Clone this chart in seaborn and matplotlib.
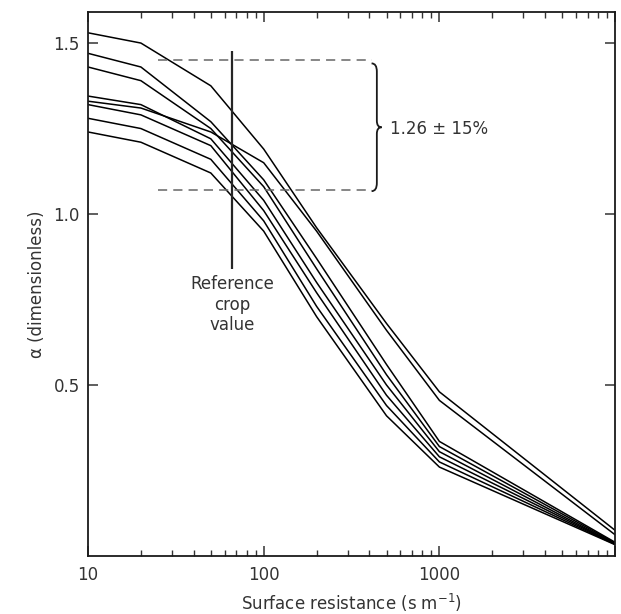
import matplotlib
matplotlib.use("Agg")
import matplotlib.pyplot as plt
from matplotlib.path import Path
from matplotlib.patches import PathPatch
from matplotlib.ticker import FixedLocator, LogLocator, NullFormatter
import numpy as np
import pandas as pd
import seaborn as sns

# surface resistance values where each curve was read
resistance = [10, 20, 50, 100, 200, 500, 1000, 10000]

# alpha for each curve
curve_a = [1.53, 1.50, 1.375, 1.19, 0.96, 0.68, 0.48, 0.075]
curve_b = [1.33, 1.31, 1.24, 1.15, 0.95, 0.66, 0.455, 0.062]
curve_c = [1.47, 1.43, 1.27, 1.10, 0.87, 0.56, 0.335, 0.040]
curve_d = [1.43, 1.39, 1.25, 1.08, 0.84, 0.53, 0.32, 0.038]
curve_e = [1.345, 1.32, 1.22, 1.04, 0.80, 0.50, 0.305, 0.036]
curve_f = [1.32, 1.29, 1.20, 1.01, 0.77, 0.47, 0.29, 0.035]
curve_g = [1.28, 1.25, 1.16, 0.98, 0.73, 0.44, 0.275, 0.034]
curve_h = [1.24, 1.21, 1.12, 0.95, 0.70, 0.41, 0.26, 0.033]
curves = [curve_a, curve_b, curve_c, curve_d, curve_e, curve_f, curve_g, curve_h]

x_ticks = [10, 100, 1000]
x_tick_labels = ["10", "100", "1000"]
y_ticks = [0.5, 1.0, 1.5]
y_tick_labels = ["0.5", "1.0", "1.5"]

# annotation values
ref_crop = 66
band_mid = 1.26
band_hi = band_mid * 1.15
band_lo = band_mid * 0.85

rows = []
for i, c in enumerate(curves):
    for r, a in zip(resistance, c):
        rows.append({"curve": i, "rs": r, "alpha": a})
df = pd.DataFrame(rows)

sns.set_theme(style="ticks")
plt.rcParams["font.family"] = ["DejaVu Sans"]

fig = plt.figure(figsize=(6.21, 6.14), dpi=100)
ax = fig.add_axes([0.1417, 0.0945, 0.8488, 0.8855])

sns.lineplot(data=df, x="rs", y="alpha", units="curve", estimator=None,
             color="black", linewidth=1.1, ax=ax, legend=False)

ax.set_xscale("log")
ax.set_xlim(10, 10000)
ax.set_ylim(0, 1.59)

# dashed band and reference line
ax.hlines([band_hi, band_lo], 25, 411, colors="0.4", linestyles=(0, (6, 4)), linewidth=1.1)
ax.vlines(ref_crop, 0.84, 1.476, colors="0.15", linewidth=1.6)

# curly brace to the right of the band
xb, xt, xe = 0.548, 0.557, 0.538
yt, yb = 0.906, 0.671
ym = (yt + yb) / 2
verts = [(xe, yt), (xb, yt), (xb, yt - 0.015),
         (xb, ym + 0.012), (xb, ym), (xt, ym),
         (xb, ym), (xb, ym - 0.012),
         (xb, yb + 0.015), (xb, yb), (xe, yb)]
codes = [Path.MOVETO, Path.CURVE3, Path.CURVE3,
         Path.LINETO, Path.CURVE3, Path.CURVE3,
         Path.CURVE3, Path.CURVE3,
         Path.LINETO, Path.CURVE3, Path.CURVE3]
ax.add_patch(PathPatch(Path(verts, codes), transform=ax.transAxes,
                       fill=False, edgecolor="0.1", linewidth=1.3))

fs = 12
ax.text(520, 1.25, "1.26 ± 15%", fontsize=fs, va="center", ha="left", color="0.2")
ax.text(ref_crop, 0.735, "Reference\ncrop\nvalue", fontsize=fs, ha="center",
        va="center", linespacing=1.2, color="0.2")

ax.xaxis.set_major_locator(FixedLocator(x_ticks + [10000]))
ax.set_xticklabels(x_tick_labels + [""])
ax.xaxis.set_minor_locator(LogLocator(base=10, subs=np.arange(2, 10)))
ax.xaxis.set_minor_formatter(NullFormatter())
ax.set_yticks(y_ticks)
ax.set_yticklabels(y_tick_labels)

ax.tick_params(which="both", direction="in", top=True, right=True,
               labelsize=fs, colors="0.2")
ax.tick_params(which="major", length=7, width=1.1)
ax.tick_params(which="minor", length=4, width=1)
ax.tick_params(axis="x", pad=7)
ax.tick_params(axis="y", pad=6)

for s in ax.spines.values():
    s.set_linewidth(1.3)
    s.set_color("0.1")

ax.set_xlabel(r"Surface resistance (s m$^{-1}$)", fontsize=fs, labelpad=6, color="0.2")
ax.set_ylabel("α (dimensionless)", fontsize=fs, labelpad=5, color="0.2")

fig.savefig("out.png", dpi=100)
